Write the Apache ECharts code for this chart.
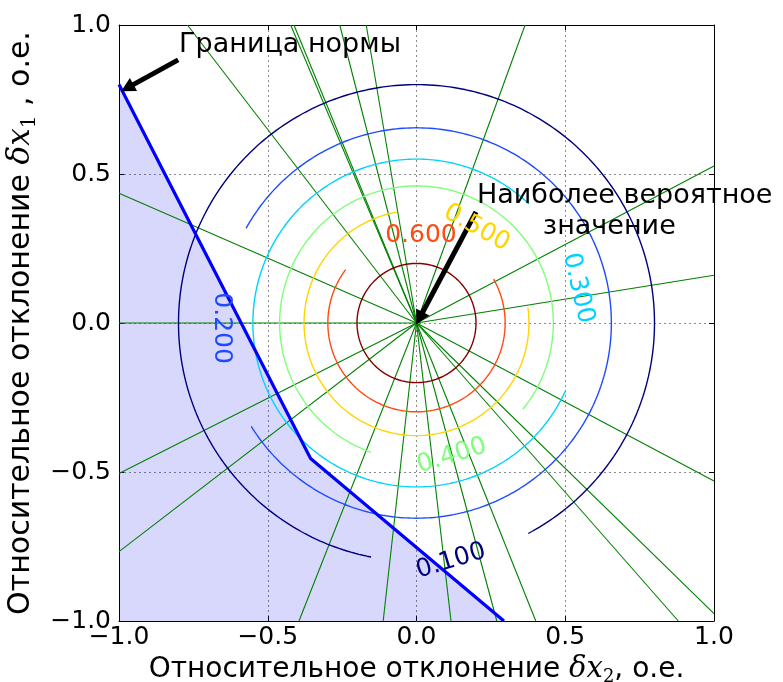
<!DOCTYPE html>
<html>
<head>
<meta charset="utf-8">
<script src="https://cdn.jsdelivr.net/npm/echarts@6/dist/echarts.min.js"></script>
<style>
  html, body { margin: 0; padding: 0; background: #ffffff; }
  #chart { width: 783px; height: 682px; }
</style>
</head>
<body>
<div id="chart"></div>
<script>
// Axis ticks
const tickValues = [-1, -0.5, 0, 0.5, 1];
const tickLabels = ['\u22121.0', '\u22120.5', '0.0', '0.5', '1.0'];

// Probability density contours: level, radius, visible arc (degrees, counter-clockwise)
const contourLevels = [0.1, 0.2, 0.3, 0.4, 0.5, 0.6, 0.7];
const contourRadii = [0.80, 0.655, 0.55, 0.46, 0.378, 0.298, 0.20];
const arcStartDeg = [298, 212, 46.5, 321, 100, 143, 0];
const arcEndDeg = [619, 511, 335.6, 610.6, 368, 389.6, 360];

// Rays from the most probable point (0, 0) to the plot border
const rayEndX = [-0.770, -0.423, -0.412, -0.258, -0.169, 0.365,
                 1, 1, 1, 1,
                 -0.395, -0.112, 0.116, 0.270, 0.401, 0.880,
                 -1, -1, -1, -1];
const rayEndY = [1, 1, 1, 1, 1, 1,
                 0.527, 0.160, -0.530, -0.975,
                 -1, -1, -1, -1, -1, -1,
                 0.435, 0, -0.505, -0.767];

// Norm boundary (piecewise linear)
const boundaryX = [-1, -0.356, 0.294];
const boundaryY = [0.8, -0.455, -1];

// Colours and layout
const levelColors = ['#00007f', '#1f4bff', '#00d2ff', '#7dff7a', '#ffd500', '#ff4a12', '#800000'];
const levelLabelLayout = [
  { x: 0.116, y: -0.799, rotate: 17 },
  { x: -0.654, y: -0.017, rotate: -90 },
  { x: 0.543, y: 0.117, rotate: -77 },
  { x: 0.119, y: -0.446, rotate: 17 },
  { x: 0.202, y: 0.319, rotate: -29 },
  { x: 0.015, y: 0.292, rotate: 0 }
];
const FONT = 'DejaVu Sans, Noto Sans, sans-serif';

function arcPoints(r, a0, a1) {
  const pts = [];
  for (let a = a0; a <= a1 + 1e-9; a += 1) {
    const t = a * Math.PI / 180;
    pts.push([r * Math.cos(t), r * Math.sin(t)]);
  }
  const t1 = a1 * Math.PI / 180;
  pts.push([r * Math.cos(t1), r * Math.sin(t1)]);
  return pts;
}

function tickFormatter(v) {
  const i = tickValues.findIndex(t => Math.abs(t - v) < 1e-9);
  return i >= 0 ? tickLabels[i] : '';
}

const series = [];

// Shaded region beyond the norm boundary
series.push({
  type: 'line', z: 1, silent: true, animation: false,
  data: boundaryX.map((x, i) => [x, boundaryY[i]]),
  showSymbol: false, symbol: 'none',
  lineStyle: { width: 0, opacity: 0 },
  areaStyle: { color: 'rgba(0,0,240,0.22)', origin: 'start' }
});

// Rays
rayEndX.forEach((x, i) => {
  series.push({
    type: 'line', z: 2, silent: true, animation: false,
    data: [[0, 0], [x, rayEndY[i]]],
    showSymbol: false, symbol: 'none',
    lineStyle: { color: '#008000', width: 1.1 }
  });
});

// Contours
contourLevels.forEach((lv, i) => {
  series.push({
    type: 'line', z: 3, silent: true, animation: false,
    data: arcPoints(contourRadii[i], arcStartDeg[i], arcEndDeg[i]),
    showSymbol: false, symbol: 'none',
    lineStyle: { color: levelColors[i], width: 1.4 }
  });
});

// Norm boundary line
series.push({
  type: 'line', z: 4, silent: true, animation: false,
  data: boundaryX.map((x, i) => [x, boundaryY[i]]),
  showSymbol: false, symbol: 'none',
  lineStyle: { color: '#0000ff', width: 3.2 }
});

// Annotation arrows
series.push({
  type: 'line', z: 6, silent: true, animation: false, data: [],
  markLine: {
    silent: true, animation: false,
    symbol: ['none', 'triangle'], symbolSize: [15, 14],
    label: { show: false },
    lineStyle: { color: '#000000', width: 5, type: 'solid' },
    emphasis: { disabled: true },
    data: [
      [{ coord: [-0.801, 0.883] }, { coord: [-0.972, 0.789] }],
      [{ coord: [0.200, 0.373] }, { coord: [0.010, 0.016] }]
    ]
  }
});

const axisCommon = {
  type: 'value', min: -1, max: 1, interval: 0.5,
  axisLine: { show: true, onZero: false, lineStyle: { color: '#000000', width: 1 } },
  axisTick: { show: true, inside: true, length: 5, lineStyle: { color: '#000000' } }
};

function richName(size) {
  return {
    a: { fontSize: size, fontFamily: FONT, color: '#000000' },
    m: { fontSize: size + 1, fontFamily: 'DejaVu Serif, serif', fontStyle: 'italic', color: '#000000' },
    s: { fontSize: Math.round(size * 0.65), fontFamily: 'DejaVu Serif, serif', color: '#000000', padding: [Math.round(size * 0.55), 0, 0, 0] }
  };
}

const option = {
  backgroundColor: '#ffffff',
  animation: false,
  grid: { left: 119, top: 25, width: 595, height: 596, outerBoundsMode: 'none', containLabel: false },
  xAxis: [
    Object.assign({}, axisCommon, {
      position: 'bottom',
      axisLabel: { formatter: tickFormatter, fontSize: 25, fontFamily: FONT, color: '#000000', margin: 4 },
      splitLine: { show: true, lineStyle: { color: '#8a8a8a', type: [2, 3], width: 1 } },
      name: '{a|Относительное отклонение }{m|δx}{s|2}{a|, о.е.}',
      nameLocation: 'middle', nameGap: 30,
      nameTextStyle: { rich: richName(28) }
    }),
    Object.assign({}, axisCommon, {
      position: 'top',
      axisLabel: { show: false },
      splitLine: { show: false }
    })
  ],
  yAxis: [
    Object.assign({}, axisCommon, {
      position: 'left',
      axisLabel: { formatter: tickFormatter, fontSize: 25, fontFamily: FONT, color: '#000000', margin: 8 },
      splitLine: { show: true, lineStyle: { color: '#8a8a8a', type: [2, 3], width: 1 } },
      name: '{a|Относительное отклонение }{m|δx}{s|1}{a| , о.е.}',
      nameLocation: 'middle', nameGap: 74, nameRotate: 90,
      nameTextStyle: { rich: richName(30) }
    }),
    Object.assign({}, axisCommon, {
      position: 'right',
      axisLabel: { show: false },
      splitLine: { show: false }
    })
  ],
  series: series
};

const chart = echarts.init(document.getElementById('chart'), null, { renderer: 'canvas' });
chart.setOption(option);

// Text placed at data coordinates through the chart's own axes
function textAt(x, y, text, style, rotateDeg, z) {
  const p = chart.convertToPixel({ gridIndex: 0 }, [x, y]);
  return {
    type: 'text', x: p[0], y: p[1], z: z, silent: true,
    rotation: (rotateDeg || 0) * Math.PI / 180,
    style: Object.assign({ text: text, fontFamily: FONT, verticalAlign: 'middle', opacity: 1 }, style)
  };
}

const texts = [];
// contour level labels sit below the arrows
levelLabelLayout.forEach((p, i) => {
  texts.push(textAt(p.x, p.y, contourLevels[i].toFixed(3),
    { fill: levelColors[i], fontSize: 25, align: 'center' }, p.rotate, 5));
});
texts.push(textAt(-0.798, 0.933, 'Граница нормы', { fill: '#000000', fontSize: 27, align: 'left' }, 0, 7));
texts.push(textAt(0.203, 0.426, 'Наиболее вероятное', { fill: '#000000', fontSize: 27, align: 'left' }, 0, 7));
texts.push(textAt(0.648, 0.322, 'значение', { fill: '#000000', fontSize: 27, align: 'center' }, 0, 7));

chart.setOption({ graphic: texts });
</script>
</body>
</html>
